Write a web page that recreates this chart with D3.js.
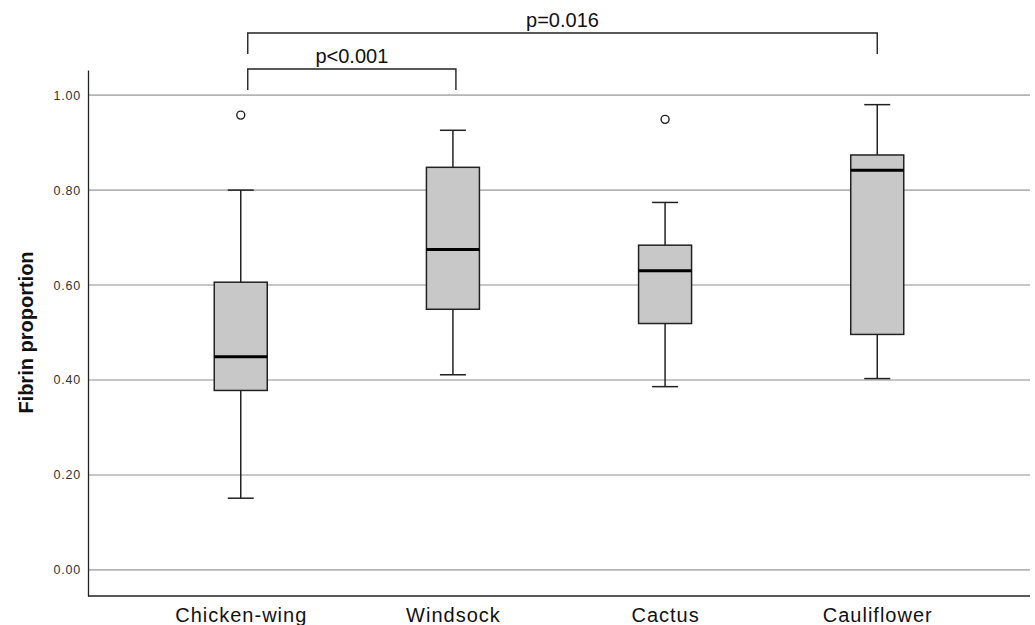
<!DOCTYPE html>
<html>
<head>
<meta charset="utf-8">
<script src="https://cdn.jsdelivr.net/npm/d3@7"></script>
<style>
  body { margin: 0; background: #fff; }
  svg { font-family: "Liberation Sans", Arial, sans-serif; }
</style>
</head>
<body>
<div id="chart"></div>
<script>
// box plot values
var categories = ["Chicken-wing", "Windsock", "Cactus", "Cauliflower"];
var whiskerLow = [0.151, 0.411, 0.386, 0.403];
var q1Values = [0.378, 0.549, 0.519, 0.496];
var medians = [0.449, 0.675, 0.630, 0.842];
var q3Values = [0.606, 0.848, 0.684, 0.874];
var whiskerHigh = [0.800, 0.926, 0.774, 0.980];
var outliers = [{cat: "Chicken-wing", value: 0.958}, {cat: "Cactus", value: 0.949}];
var yTicks = [0, 0.2, 0.4, 0.6, 0.8, 1.0];
var brackets = [
  {from: "Chicken-wing", to: "Cauliflower", label: "p=0.016", level: 0},
  {from: "Chicken-wing", to: "Windsock", label: "p<0.001", level: 1}
];

var W = 1035, H = 625;
var margin = {top: 70, right: 5, bottom: 29, left: 88};
var width = W - margin.left - margin.right,
    height = H - margin.top - margin.bottom;

var svg = d3.select("#chart").append("svg")
    .attr("width", W)
    .attr("height", H);
var g = svg.append("g")
    .attr("transform", "translate(" + margin.left + "," + margin.top + ")");

var x = d3.scalePoint()
    .domain(categories)
    .range([0, width])
    .padding(0.72);

var y = d3.scaleLinear()
    .domain([-0.055, 1.053])
    .range([height, 0]);

// gridlines
g.append("g")
  .selectAll("line")
  .data(yTicks)
  .enter()
  .append("line")
    .attr("x1", 0)
    .attr("x2", width)
    .attr("y1", function(d) { return y(d); })
    .attr("y2", function(d) { return y(d); })
    .style("stroke", "#b4b4b4")
    .style("stroke-width", 1.6);

// y axis
var yAxis = g.append("g")
    .call(d3.axisLeft(y).tickValues(yTicks).tickFormat(d3.format(".2f")).tickSize(0).tickPadding(7));
yAxis.select(".domain").style("stroke", "#222").style("stroke-width", 1.3);
yAxis.selectAll("text")
    .attr("font-size", "12.5px")
    .attr("fill", "#333")
    .style("letter-spacing", "0.8px");

// x axis
var xAxis = g.append("g")
    .attr("transform", "translate(0," + height + ")")
    .call(d3.axisBottom(x).tickSize(0));
xAxis.select(".domain").attr("d", "M0,0H" + width).style("stroke", "#222").style("stroke-width", 1.3);
xAxis.selectAll("text")
    .attr("font-size", "20px")
    .attr("fill", "#111")
    .attr("y", 26)
    .attr("dy", 0)
    .style("letter-spacing", "1px");

// y label
svg.append("text")
    .attr("transform", "translate(33," + (margin.top + y(0.5)) + ") rotate(-90)")
    .attr("text-anchor", "middle")
    .attr("font-size", "20px")
    .attr("font-weight", "bold")
    .attr("fill", "#111")
    .text("Fibrin proportion");

var boxW = 53, capW = 26;
var boxes = g.append("g").selectAll("g")
    .data(categories)
    .enter()
    .append("g");

// whiskers
boxes.append("line")
    .attr("x1", function(d) { return x(d); })
    .attr("x2", function(d) { return x(d); })
    .attr("y1", function(d, i) { return y(whiskerLow[i]); })
    .attr("y2", function(d, i) { return y(whiskerHigh[i]); })
    .style("stroke", "#222").style("stroke-width", 1.5);
boxes.append("line")
    .attr("x1", function(d) { return x(d) - capW / 2; })
    .attr("x2", function(d) { return x(d) + capW / 2; })
    .attr("y1", function(d, i) { return y(whiskerLow[i]); })
    .attr("y2", function(d, i) { return y(whiskerLow[i]); })
    .style("stroke", "#222").style("stroke-width", 1.5);
boxes.append("line")
    .attr("x1", function(d) { return x(d) - capW / 2; })
    .attr("x2", function(d) { return x(d) + capW / 2; })
    .attr("y1", function(d, i) { return y(whiskerHigh[i]); })
    .attr("y2", function(d, i) { return y(whiskerHigh[i]); })
    .style("stroke", "#222").style("stroke-width", 1.5);

// boxes
boxes.append("rect")
    .attr("x", function(d) { return x(d) - boxW / 2; })
    .attr("width", boxW)
    .attr("y", function(d, i) { return y(q3Values[i]); })
    .attr("height", function(d, i) { return y(q1Values[i]) - y(q3Values[i]); })
    .style("fill", "#c8c8c8")
    .style("stroke", "#222")
    .style("stroke-width", 1.5);

// medians
boxes.append("line")
    .attr("x1", function(d) { return x(d) - boxW / 2; })
    .attr("x2", function(d) { return x(d) + boxW / 2; })
    .attr("y1", function(d, i) { return y(medians[i]); })
    .attr("y2", function(d, i) { return y(medians[i]); })
    .style("stroke", "#000").style("stroke-width", 3);

// outliers
g.append("g").selectAll("circle")
    .data(outliers)
    .enter()
    .append("circle")
    .attr("cx", function(d) { return x(d.cat); })
    .attr("cy", function(d) { return y(d.value); })
    .attr("r", 4)
    .style("fill", "#fff")
    .style("stroke", "#222")
    .style("stroke-width", 1.4);

// significance brackets
var bracketTop = [33, 69], legLen = [21, 21];
var br = svg.append("g").selectAll("g")
    .data(brackets)
    .enter()
    .append("g");
br.append("path")
    .attr("d", function(d) {
      var x1 = margin.left + x(d.from) + 7, x2 = margin.left + x(d.to) + (d.level == 0 ? 0 : 3);
      var t = bracketTop[d.level], b = t + legLen[d.level];
      return "M" + x1 + "," + b + "V" + t + "H" + x2 + "V" + b;
    })
    .style("fill", "none")
    .style("stroke", "#222")
    .style("stroke-width", 1.4);
br.append("text")
    .attr("x", function(d) {
      return margin.left + (x(d.from) + 7 + x(d.to) + (d.level == 0 ? 0 : 3)) / 2;
    })
    .attr("y", function(d) { return bracketTop[d.level] - 6; })
    .attr("text-anchor", "middle")
    .attr("font-size", "20px")
    .attr("fill", "#111")
    .text(function(d) { return d.label; });
</script>
</body>
</html>
